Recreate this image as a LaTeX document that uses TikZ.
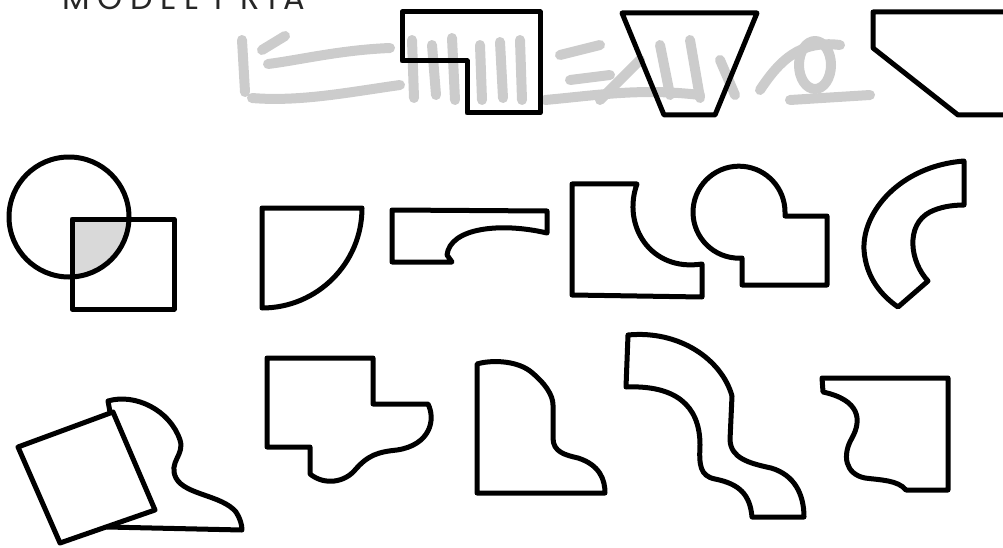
\documentclass[tikz,border=0pt]{standalone}
\usepackage{fontspec}
\newfontfamily\titlefont[LetterSpace=24]{Poppins}
\tikzset{
  outline/.style={draw=black, line width=5pt, line join=round},
  inkgray/.style={draw=black!20, line width=10pt, line cap=round, line join=round}
}
\begin{document}
\begin{tikzpicture}[x=1pt,y=-1pt]
  \useasboundingbox (0,0) rectangle (1003,548);
  % faint scan mark behind the top row
  \foreach \xa/\ya/\xb/\yb in {242/40/245/92, 262/50/285/36, 412/40/414/98, 432/45/436/95,
      452/38/455/100, 480/45/482/100, 500/42/503/98, 520/40/522/100, 560/55/600/45,
      570/80/610/75, 660/45/670/95, 690/40/700/98, 720/60/735/95, 600/100/640/60}
    \draw[inkgray] (\xa,\ya) -- (\xb,\yb);
  \draw[inkgray] (252,98) .. controls (300,102) and (350,92) .. (400,85);
  \draw[inkgray] (268,64) .. controls (300,60) and (340,50) .. (390,48);
  \draw[inkgray] (545,100) .. controls (600,95) and (640,88) .. (700,95);
  \draw[inkgray] (760,90) .. controls (780,60) and (800,40) .. (840,45);
  \draw[inkgray] (815,65) ellipse[x radius=16,y radius=24];
  \draw[inkgray] (790,100) -- (870,95);
  % title, cut by the page edge
  \node[anchor=base west, inner sep=0pt, font=\titlefont\fontsize{32}{34}\selectfont, text=black!85] (title) at (62,10) {MODEL PRIA};
  % top row
  \draw[outline] (402,12) -- (540,12) -- (540,113) -- (467,113) -- (467,61) -- (402,61) -- cycle;
  \draw[outline] (622,13) -- (757,13) -- (715,115) -- (664,115) -- cycle;
  \draw[outline] (1010,12) -- (873,12) -- (873,48) -- (958,115) -- (1010,115);
  % middle row
  \begin{scope}
    \clip (72,219) rectangle (174,309);
    \fill[black!15] (69,217) circle[radius=60];
  \end{scope}
  \draw[outline] (69,217) circle[radius=60];
  \draw[outline] (72,219) rectangle (174,309);
  \draw[outline] (262,208) -- (362,208) arc[start angle=0, end angle=90, radius=100] -- cycle;
  \draw[outline] (392,210) -- (547,211) -- (547,233) .. controls (500,222) and (450,228) .. (447,255) -- (452,262) -- (392,262) -- cycle;
  \draw[outline] (572,184) -- (637,184) .. controls (622,225) and (650,272) .. (702,264) -- (702,297) -- (572,295) -- cycle;
  \draw[outline] (742,285) -- (742,258) -- (735,258) arc[start angle=95, end angle=360, radius=46] -- (785,216) -- (827,216) -- (827,285) -- cycle;
  \draw[outline] (964,161) .. controls (900,166) and (862,212) .. (864,250) .. controls (866,278) and (882,296) .. (898,307)
    -- (928,281) .. controls (910,262) and (905,225) .. (930,212) .. controls (940,207) and (952,205) .. (964,205) -- cycle;
  % bottom row
  \draw[outline] (110,412) -- (108,401) .. controls (135,393) and (170,410) .. (180,440) .. controls (185,455) and (168,462) .. (176,478)
    .. controls (185,495) and (222,495) .. (236,512) .. controls (240,518) and (242,525) .. (242,530) -- (107,527) -- cycle;
  \draw[outline, fill=white] (18,447) -- (113,412) -- (155,510) -- (60,543) -- cycle;
  \draw[outline] (267,358) -- (373,358) -- (373,404) -- (428,404) .. controls (436,420) and (430,445) .. (397,450)
    .. controls (378,452) and (368,455) .. (355,470) .. controls (345,482) and (325,486) .. (310,474) -- (310,447) -- (267,447) -- cycle;
  \draw[outline] (477,493) -- (477,364) .. controls (490,360) and (515,360) .. (530,371) .. controls (545,383) and (553,395) .. (553,405)
    -- (553,438) .. controls (553,452) and (565,455) .. (578,458) .. controls (600,465) and (605,480) .. (605,493) -- cycle;
  \draw[outline] (628,335) .. controls (680,330) and (722,360) .. (732,396) -- (730,440) .. controls (731,458) and (748,463) .. (771,468)
    .. controls (795,475) and (804,495) .. (804,517) -- (752,517) .. controls (750,495) and (740,484) .. (715,479)
    .. controls (700,476) and (699,465) .. (700,445) .. controls (700,405) and (675,385) .. (626,387) -- cycle;
  \draw[outline] (822,378) -- (948,378) -- (948,490) -- (906,490) .. controls (898,480) and (880,480) .. (865,478)
    .. controls (845,474) and (842,455) .. (852,438) .. controls (862,420) and (860,400) .. (823,392) -- cycle;
\end{tikzpicture}
\end{document}
